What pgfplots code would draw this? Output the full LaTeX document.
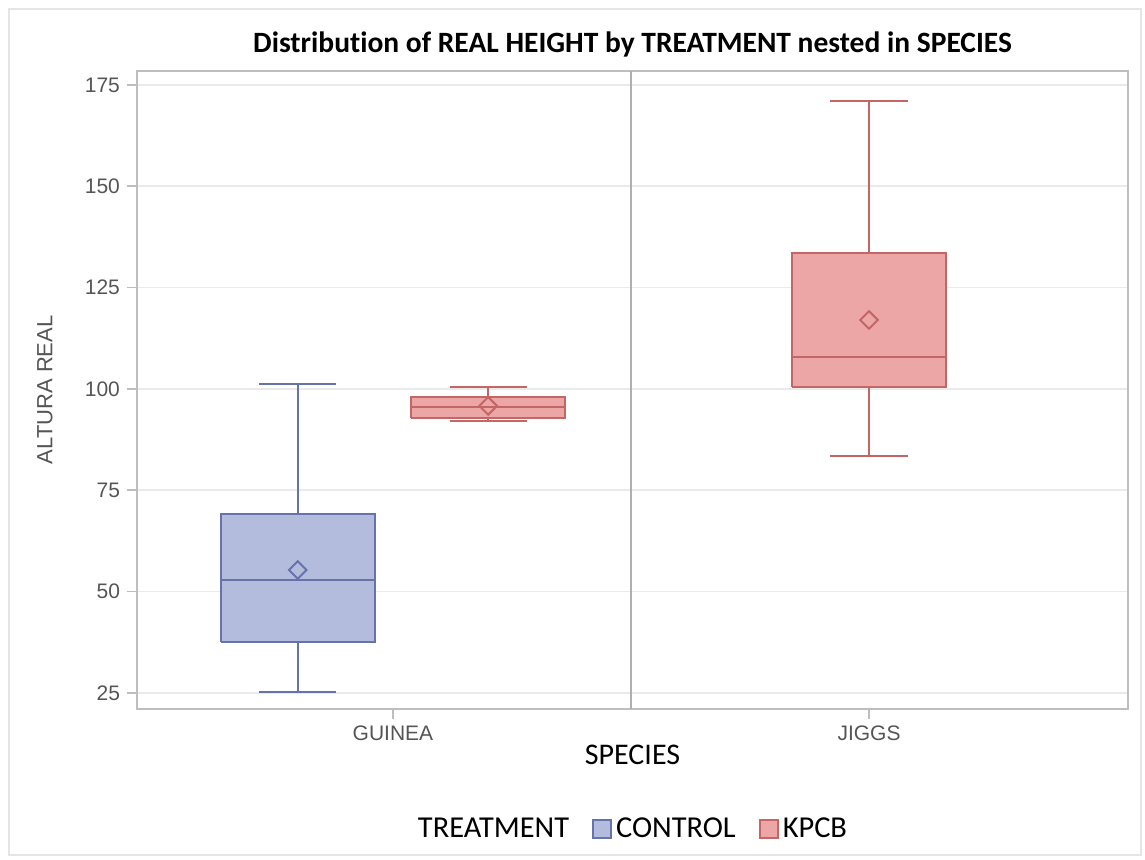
\documentclass[border=0pt]{standalone}
\usepackage{fontspec}
\setmainfont{Carlito}[Ligatures=CommonOff]
\newfontfamily\arialf{Liberation Sans}
\usepackage{pgfplots}
\pgfplotsset{compat=1.18}
\definecolor{ctrlfill}{RGB}{180,188,222}
\definecolor{ctrlline}{RGB}{102,114,170}
\definecolor{kpcbfill}{RGB}{236,166,166}
\definecolor{kpcbline}{RGB}{196,102,102}
\definecolor{framegray}{RGB}{190,190,190}
\definecolor{gridgray}{RGB}{234,234,234}
\definecolor{dividergray}{RGB}{175,175,175}
\definecolor{tickgray}{RGB}{85,85,85}
\begin{document}
\begin{tikzpicture}
\path[use as bounding box] (0,0) rectangle (572.5pt,429.5pt);
\draw[gray!20, line width=1pt] (4.5pt,2pt) rectangle (570.5pt,425pt);
\begin{axis}[
  at={(68.5pt,75pt)}, anchor=south west, scale only axis,
  width=495.5pt, height=319.15pt,
  xmin=-0.5378, xmax=1.5441, ymin=21.0, ymax=178.5,
  xtick={0,1}, xticklabels={GUINEA,JIGGS},
  ytick={25,50,75,100,125,150,175},
  axis line style={framegray, line width=1pt},
  tick style={framegray, line width=0.8pt},
  tick align=outside, major tick length=5pt, tick pos=left,
  ymajorgrids, major grid style={gridgray, line width=0.8pt},
  ticklabel style={font=\arialf\fontsize{10.5}{12}\selectfont, text=tickgray},
  /pgf/number format/assume math mode=true,
  xlabel={SPECIES},
  xlabel style={font=\fontsize{15}{18}\selectfont, at={(0.5,0)}, anchor=center, yshift=-23pt},
  ylabel={ALTURA REAL},
  ylabel style={font=\arialf\fontsize{11}{13}\selectfont, text=tickgray, at={(-0.0928,0.5)}, anchor=center},
  title={Distribution of REAL HEIGHT by TREATMENT nested in SPECIES},
  every axis title/.style={at={(0.5,1)}, anchor=base, yshift=9.35pt, font=\bfseries\fontsize{14.75}{18}\selectfont},
  legend columns=3,
  legend style={at={(0.5,-0.188)}, anchor=center, draw=none, fill=none,
    font=\fontsize{15.2}{18}\selectfont,
    /tikz/every odd column/.append style={column sep=0pt},
    /tikz/every even column/.append style={column sep=9.5pt}},
  line join=miter,
]
% divider between species
\addplot[forget plot, dividergray, line width=1pt] coordinates {(0.5,21.0) (0.5,178.5)};

% ---- GUINEA / CONTROL: whiskers 25.1-101.2, Q1 37.5, median 52.8, Q3 69.1, mean 55.3
\addplot[forget plot, ctrlline, line width=1pt] coordinates {(-0.2,69.1) (-0.2,101.2)};
\addplot[forget plot, ctrlline, line width=1pt] coordinates {(-0.281,101.2) (-0.119,101.2)};
\addplot[forget plot, ctrlline, line width=1pt] coordinates {(-0.2,37.5) (-0.2,25.1)};
\addplot[forget plot, ctrlline, line width=1pt] coordinates {(-0.281,25.1) (-0.119,25.1)};
\addplot[forget plot, draw=ctrlline, fill=ctrlfill, line width=1pt] coordinates {(-0.3618,37.5) (-0.0382,37.5) (-0.0382,69.1) (-0.3618,69.1) (-0.3618,37.5)};
\addplot[forget plot, ctrlline, line width=1pt] coordinates {(-0.3618,52.8) (-0.0382,52.8)};
\addplot[forget plot, only marks, mark=square, mark size=3.1pt,
  mark options={rotate=45, draw=ctrlline, line width=1pt, fill=none}] coordinates {(-0.2,55.3)};

% ---- GUINEA / KPCB: whiskers 92.1-100.4, Q1 92.9, median 95.5, Q3 97.9, mean 95.8
\addplot[forget plot, kpcbline, line width=1pt] coordinates {(0.2,97.9) (0.2,100.4)};
\addplot[forget plot, kpcbline, line width=1pt] coordinates {(0.119,100.4) (0.281,100.4)};
\addplot[forget plot, kpcbline, line width=1pt] coordinates {(0.2,92.9) (0.2,92.1)};
\addplot[forget plot, kpcbline, line width=1pt] coordinates {(0.119,92.1) (0.281,92.1)};
\addplot[forget plot, draw=kpcbline, fill=kpcbfill, line width=1pt] coordinates {(0.0382,92.9) (0.3618,92.9) (0.3618,97.9) (0.0382,97.9) (0.0382,92.9)};
\addplot[forget plot, kpcbline, line width=1pt] coordinates {(0.0382,95.5) (0.3618,95.5)};
\addplot[forget plot, only marks, mark=square, mark size=3.1pt,
  mark options={rotate=45, draw=kpcbline, line width=1pt, fill=none}] coordinates {(0.2,95.8)};

% ---- JIGGS / KPCB: whiskers 83.5-171.1, Q1 100.5, median 107.8, Q3 133.6, mean 117.0
\addplot[forget plot, kpcbline, line width=1pt] coordinates {(1.0,133.6) (1.0,171.1)};
\addplot[forget plot, kpcbline, line width=1pt] coordinates {(0.919,171.1) (1.081,171.1)};
\addplot[forget plot, kpcbline, line width=1pt] coordinates {(1.0,100.5) (1.0,83.5)};
\addplot[forget plot, kpcbline, line width=1pt] coordinates {(0.919,83.5) (1.081,83.5)};
\addplot[forget plot, draw=kpcbline, fill=kpcbfill, line width=1pt] coordinates {(0.8382,100.5) (1.1618,100.5) (1.1618,133.6) (0.8382,133.6) (0.8382,100.5)};
\addplot[forget plot, kpcbline, line width=1pt] coordinates {(0.8382,107.8) (1.1618,107.8)};
\addplot[forget plot, only marks, mark=square, mark size=3.1pt,
  mark options={rotate=45, draw=kpcbline, line width=1pt, fill=none}] coordinates {(1.0,117.0)};

% legend
\addlegendimage{empty legend}
\addlegendentry{TREATMENT\hspace{15.5pt}}
\addlegendimage{legend image code/.code={\draw[draw=ctrlline, fill=ctrlfill, line width=1pt] (0pt,-4.5pt) rectangle (9pt,4.5pt);}}
\addlegendentry{CONTROL}
\addlegendimage{legend image code/.code={\draw[draw=kpcbline, fill=kpcbfill, line width=1pt] (0pt,-4.5pt) rectangle (9pt,4.5pt);}}
\addlegendentry{KPCB}
\end{axis}
\end{tikzpicture}
\end{document}
